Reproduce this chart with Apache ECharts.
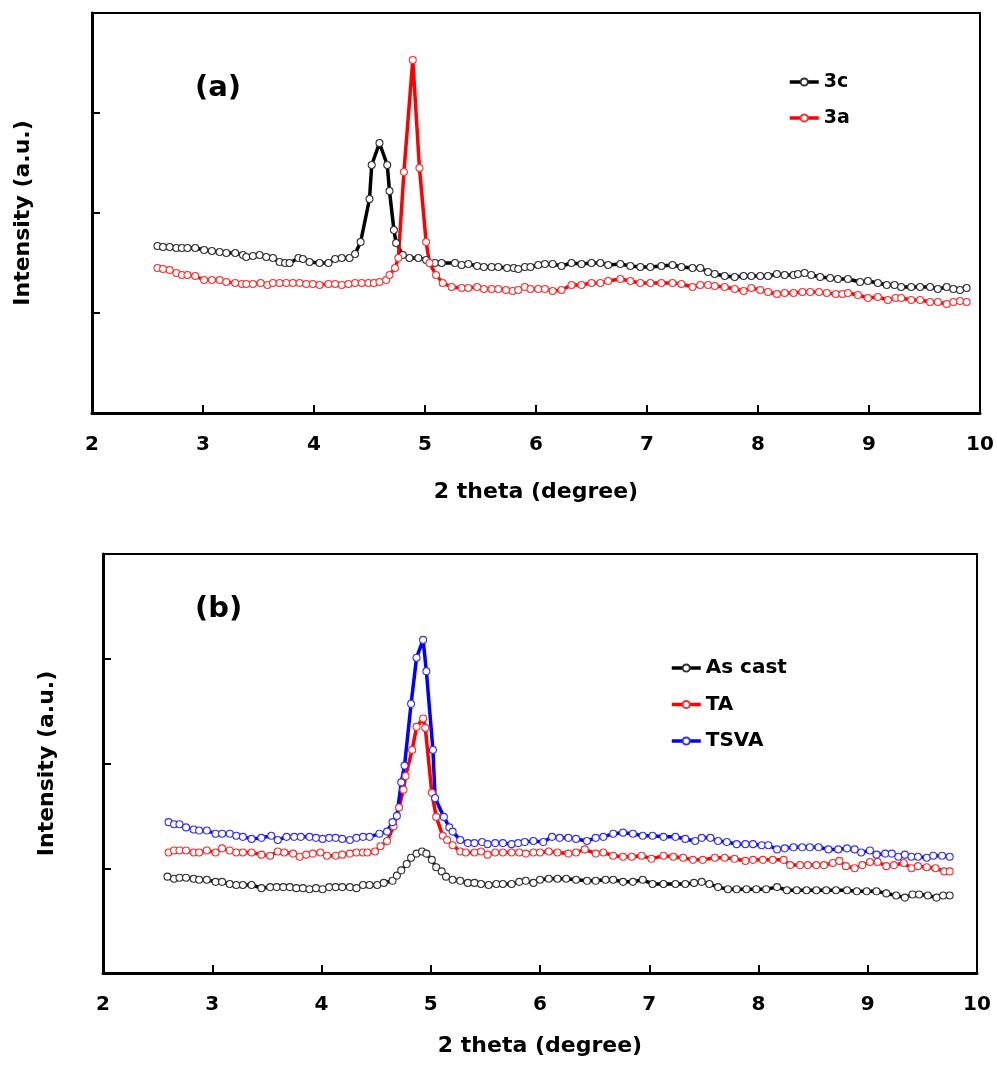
<!DOCTYPE html>
<html>
<head>
<meta charset="utf-8">
<script src="https://cdn.jsdelivr.net/npm/echarts@6/dist/echarts.min.js"></script>
<style>
  html, body { margin: 0; padding: 0; background: #fff; }
  #chart { width: 997px; height: 1069px; }
</style>
</head>
<body>
<div id="chart"></div>
<script>
// ---- Data: [2theta, intensity (a.u.)] ----
const xTicks = [2, 3, 4, 5, 6, 7, 8, 9, 10];
const namesA = ['3c', '3a'];
const namesB = ['As cast', 'TA', 'TSVA'];

const data3c = [[2.59,167],[2.64,166],[2.70,166],[2.76,165],[2.81,165],[2.86,165],[2.93,165],[3.01,163],[3.08,162],[3.15,161],[3.21,160],[3.29,160],[3.36,158],[3.39,156],[3.45,157],[3.51,158],[3.57,156],[3.63,155],[3.69,151],[3.74,150],[3.78,150],[3.86,155],[3.90,154],[3.96,151],[4.05,150],[4.13,150],[4.19,154],[4.25,155],[4.32,155],[4.37,159],[4.42,171],[4.50,214],[4.52,248],[4.59,270],[4.66,248],[4.68,222],[4.72,183],[4.74,170],[4.80,158],[4.86,155],[4.94,155],[5.01,153],[5.09,150],[5.15,150],[5.27,150],[5.33,148],[5.39,149],[5.47,147],[5.53,146],[5.60,146],[5.66,146],[5.74,145],[5.80,145],[5.84,144],[5.90,146],[5.95,146],[6.02,148],[6.08,149],[6.15,149],[6.23,147],[6.32,150],[6.41,149],[6.50,150],[6.58,150],[6.65,148],[6.76,149],[6.85,147],[6.94,146],[7.03,146],[7.13,147],[7.23,148],[7.31,146],[7.41,145],[7.48,145],[7.55,141],[7.61,139],[7.70,137],[7.79,136],[7.87,137],[7.94,137],[8.02,137],[8.09,137],[8.17,139],[8.24,138],[8.32,138],[8.36,139],[8.42,140],[8.48,138],[8.56,136],[8.65,135],[8.72,134],[8.81,134],[8.92,131],[8.99,132],[9.08,130],[9.16,128],[9.23,128],[9.29,126],[9.38,126],[9.46,126],[9.55,126],[9.62,124],[9.70,126],[9.76,124],[9.82,123],[9.88,125]];

const data3a = [[2.59,145],[2.64,144],[2.70,143],[2.76,140],[2.81,138],[2.86,138],[2.93,137],[3.01,133],[3.08,133],[3.15,133],[3.21,131],[3.29,130],[3.35,129],[3.39,129],[3.45,129],[3.52,130],[3.58,128],[3.63,130],[3.69,130],[3.75,130],[3.81,130],[3.87,130],[3.93,129],[3.99,129],[4.05,128],[4.13,129],[4.19,129],[4.25,128],[4.31,129],[4.37,130],[4.43,130],[4.49,130],[4.54,130],[4.59,131],[4.65,133],[4.68,138],[4.73,145],[4.76,155],[4.81,241],[4.89,353],[4.95,245],[5.01,171],[5.04,150],[5.10,138],[5.16,130],[5.24,126],[5.33,125],[5.39,125],[5.47,126],[5.53,124],[5.60,124],[5.66,124],[5.73,123],[5.79,122],[5.84,123],[5.90,126],[5.95,124],[6.02,124],[6.08,124],[6.15,122],[6.23,123],[6.32,128],[6.41,128],[6.50,130],[6.58,130],[6.65,132],[6.76,134],[6.85,132],[6.94,130],[7.03,130],[7.13,130],[7.23,130],[7.31,129],[7.41,126],[7.48,128],[7.55,128],[7.61,127],[7.70,126],[7.79,124],[7.87,122],[7.94,125],[8.02,123],[8.09,121],[8.17,119],[8.24,120],[8.32,120],[8.40,121],[8.47,121],[8.55,121],[8.62,120],[8.70,119],[8.76,119],[8.81,120],[8.90,118],[8.99,115],[9.08,116],[9.17,113],[9.24,115],[9.29,115],[9.38,113],[9.46,113],[9.55,111],[9.62,111],[9.70,109],[9.76,111],[9.82,112],[9.88,111]];

const dataAsCast = [[2.59,92],[2.65,90],[2.70,91],[2.76,91],[2.83,90],[2.88,89],[2.95,89],[3.03,87],[3.09,87],[3.16,85],[3.22,84],[3.28,84],[3.36,84],[3.45,81],[3.53,82],[3.59,82],[3.65,82],[3.71,82],[3.77,81],[3.83,81],[3.89,80],[3.95,81],[4.01,80],[4.07,82],[4.13,82],[4.19,82],[4.26,82],[4.32,81],[4.38,84],[4.44,84],[4.51,84],[4.57,86],[4.65,88],[4.69,93],[4.73,98],[4.78,104],[4.82,110],[4.87,114],[4.92,116],[4.96,114],[5.01,108],[5.05,101],[5.10,97],[5.14,92],[5.20,89],[5.27,88],[5.34,86],[5.40,86],[5.46,85],[5.53,84],[5.60,85],[5.66,85],[5.74,85],[5.81,87],[5.87,88],[5.94,86],[6.00,89],[6.08,90],[6.16,90],[6.24,90],[6.33,89],[6.43,88],[6.51,88],[6.60,89],[6.67,89],[6.76,87],[6.85,87],[6.94,89],[7.03,85],[7.13,85],[7.24,85],[7.33,85],[7.41,86],[7.48,87],[7.55,85],[7.63,82],[7.72,80],[7.80,80],[7.89,80],[7.98,80],[8.07,80],[8.17,82],[8.26,79],[8.35,79],[8.44,79],[8.53,79],[8.62,79],[8.71,79],[8.81,79],[8.90,78],[8.99,78],[9.08,78],[9.17,76],[9.26,74],[9.34,72],[9.41,75],[9.47,75],[9.55,74],[9.63,72],[9.69,74],[9.75,74]];

const dataTA = [[2.60,115],[2.65,117],[2.70,117],[2.76,117],[2.83,115],[2.88,115],[2.95,117],[3.03,115],[3.09,119],[3.16,117],[3.22,115],[3.28,115],[3.36,115],[3.45,113],[3.53,112],[3.60,116],[3.66,115],[3.74,114],[3.80,111],[3.86,113],[3.92,114],[3.99,115],[4.05,112],[4.13,112],[4.19,113],[4.26,114],[4.32,115],[4.38,115],[4.42,115],[4.49,116],[4.54,121],[4.60,126],[4.66,140],[4.71,158],[4.75,175],[4.77,188],[4.83,213],[4.87,235],[4.93,243],[4.95,234],[5.01,172],[5.05,149],[5.11,131],[5.15,127],[5.20,122],[5.27,116],[5.32,115],[5.40,115],[5.46,116],[5.52,113],[5.59,115],[5.66,115],[5.74,115],[5.81,115],[5.87,114],[5.94,115],[6.00,115],[6.08,116],[6.16,115],[6.26,114],[6.33,115],[6.41,118],[6.51,114],[6.58,115],[6.67,112],[6.76,111],[6.84,111],[6.93,112],[7.02,109],[7.13,112],[7.22,111],[7.31,110],[7.40,108],[7.49,108],[7.60,110],[7.69,110],[7.78,109],[7.88,107],[7.95,108],[8.04,108],[8.13,108],[8.23,108],[8.29,103],[8.38,103],[8.45,103],[8.53,103],[8.60,103],[8.68,105],[8.74,107],[8.80,102],[8.88,100],[8.95,103],[9.02,106],[9.09,106],[9.17,102],[9.24,103],[9.33,105],[9.40,100],[9.46,102],[9.54,101],[9.62,100],[9.70,97],[9.75,97]];

const dataTSVA = [[2.60,144],[2.65,142],[2.70,142],[2.76,139],[2.83,137],[2.88,136],[2.95,136],[3.03,133],[3.09,133],[3.16,133],[3.22,131],[3.28,130],[3.36,128],[3.45,129],[3.54,131],[3.60,127],[3.68,130],[3.75,130],[3.81,130],[3.89,130],[3.95,129],[4.01,128],[4.07,129],[4.13,129],[4.19,128],[4.26,127],[4.32,129],[4.38,130],[4.44,130],[4.53,133],[4.60,135],[4.65,144],[4.69,150],[4.73,182],[4.76,198],[4.82,257],[4.87,301],[4.93,318],[4.96,288],[5.02,213],[5.04,167],[5.12,149],[5.17,139],[5.20,135],[5.27,127],[5.34,124],[5.40,124],[5.47,125],[5.52,123],[5.59,124],[5.66,124],[5.74,123],[5.80,124],[5.86,125],[5.94,126],[6.03,125],[6.11,130],[6.18,129],[6.26,129],[6.33,128],[6.43,126],[6.51,129],[6.58,130],[6.67,133],[6.76,134],[6.85,133],[6.94,131],[7.03,131],[7.13,130],[7.24,130],[7.33,128],[7.42,126],[7.48,129],[7.56,129],[7.63,126],[7.71,125],[7.80,123],[7.88,123],[7.95,123],[8.03,122],[8.09,122],[8.17,118],[8.24,119],[8.32,120],[8.40,120],[8.47,120],[8.55,120],[8.64,118],[8.73,118],[8.81,119],[8.88,118],[8.94,115],[9.02,117],[9.08,113],[9.16,114],[9.22,114],[9.28,111],[9.34,113],[9.40,111],[9.46,111],[9.54,110],[9.60,112],[9.68,112],[9.75,111]];

// ---- Styling helpers ----
const FONT = 'DejaVu Sans';
function mkSeries(name, data, lineColor, markColor, idx) {
  return {
    name: name, type: 'line', data: data,
    xAxisIndex: idx, yAxisIndex: idx,
    color: lineColor,
    symbol: 'circle', symbolSize: 7,
    lineStyle: { color: lineColor, width: 3.5 },
    itemStyle: { color: '#ffffff', borderColor: markColor, borderWidth: 1.1 },
    emphasis: { disabled: true },
    clip: false
  };
}
function mkX(idx, gap) {
  return {
    type: 'value', gridIndex: idx, min: xTicks[0], max: xTicks[xTicks.length - 1], interval: 1,
    name: '2 theta (degree)', nameLocation: 'middle', nameGap: gap,
    nameTextStyle: { fontFamily: FONT, fontWeight: 'bold', fontSize: 22, color: '#000' },
    axisLine: { show: true, lineStyle: { color: '#000', width: 3 } },
    axisTick: { show: true, inside: true, length: 8, lineStyle: { color: '#000', width: 2 } },
    axisLabel: { fontFamily: FONT, fontWeight: 'bold', fontSize: 20, color: '#000', margin: 22 },
    splitLine: { show: false }
  };
}
function mkY(idx, gap) {
  return {
    type: 'value', gridIndex: idx, min: 0, max: 400, interval: 100,
    name: 'Intensity (a.u.)', nameLocation: 'middle', nameGap: gap, nameRotate: 90,
    nameTextStyle: { fontFamily: FONT, fontWeight: 'bold', fontSize: 22, color: '#000' },
    axisLine: { show: true, lineStyle: { color: '#000', width: 3 } },
    axisTick: { show: true, inside: true, length: 8, lineStyle: { color: '#000', width: 2 } },
    axisLabel: { show: false },
    splitLine: { show: false }
  };
}
const legendText = { fontFamily: FONT, fontWeight: 'bold', fontSize: 19, color: '#000', lineHeight: 20 };

const chart = echarts.init(document.getElementById('chart'), null, { renderer: 'canvas' });
chart.setOption({
  animation: false,
  backgroundColor: '#ffffff',
  title: [
    { text: '(a)', left: 190, top: 69, textStyle: { fontFamily: FONT, fontWeight: 'bold', fontSize: 29, color: '#000' } },
    { text: '(b)', left: 190, top: 590, textStyle: { fontFamily: FONT, fontWeight: 'bold', fontSize: 29, color: '#000' } }
  ],
  grid: [
    { left: 92, top: 13, width: 888, height: 400, show: true, borderColor: '#000', borderWidth: 2, backgroundColor: 'transparent' },
    { left: 103, top: 554, width: 874, height: 419, show: true, borderColor: '#000', borderWidth: 2, backgroundColor: 'transparent' }
  ],
  legend: [
    { data: namesA, orient: 'vertical', left: 783, top: 67, itemWidth: 29, itemHeight: 9, itemGap: 16,
      lineStyle: { width: 3.5 }, textStyle: legendText, selectedMode: false },
    { data: namesB, orient: 'vertical', left: 665, top: 653, itemWidth: 29, itemHeight: 9, itemGap: 16.5,
      lineStyle: { width: 3.5 }, textStyle: Object.assign({}, legendText, { fontSize: 20 }), selectedMode: false }
  ],
  xAxis: [mkX(0, 68), mkX(1, 62)],
  yAxis: [mkY(0, 58), mkY(1, 45)],
  series: [
    mkSeries(namesA[0], data3c, '#000000', '#333333', 0),
    mkSeries(namesA[1], data3a, '#ff0000', '#ff3333', 0),
    mkSeries(namesB[0], dataAsCast, '#000000', '#333333', 1),
    mkSeries(namesB[1], dataTA, '#ff0000', '#ee3333', 1),
    mkSeries(namesB[2], dataTSVA, '#0000ff', '#3333ee', 1)
  ]
});
</script>
</body>
</html>
